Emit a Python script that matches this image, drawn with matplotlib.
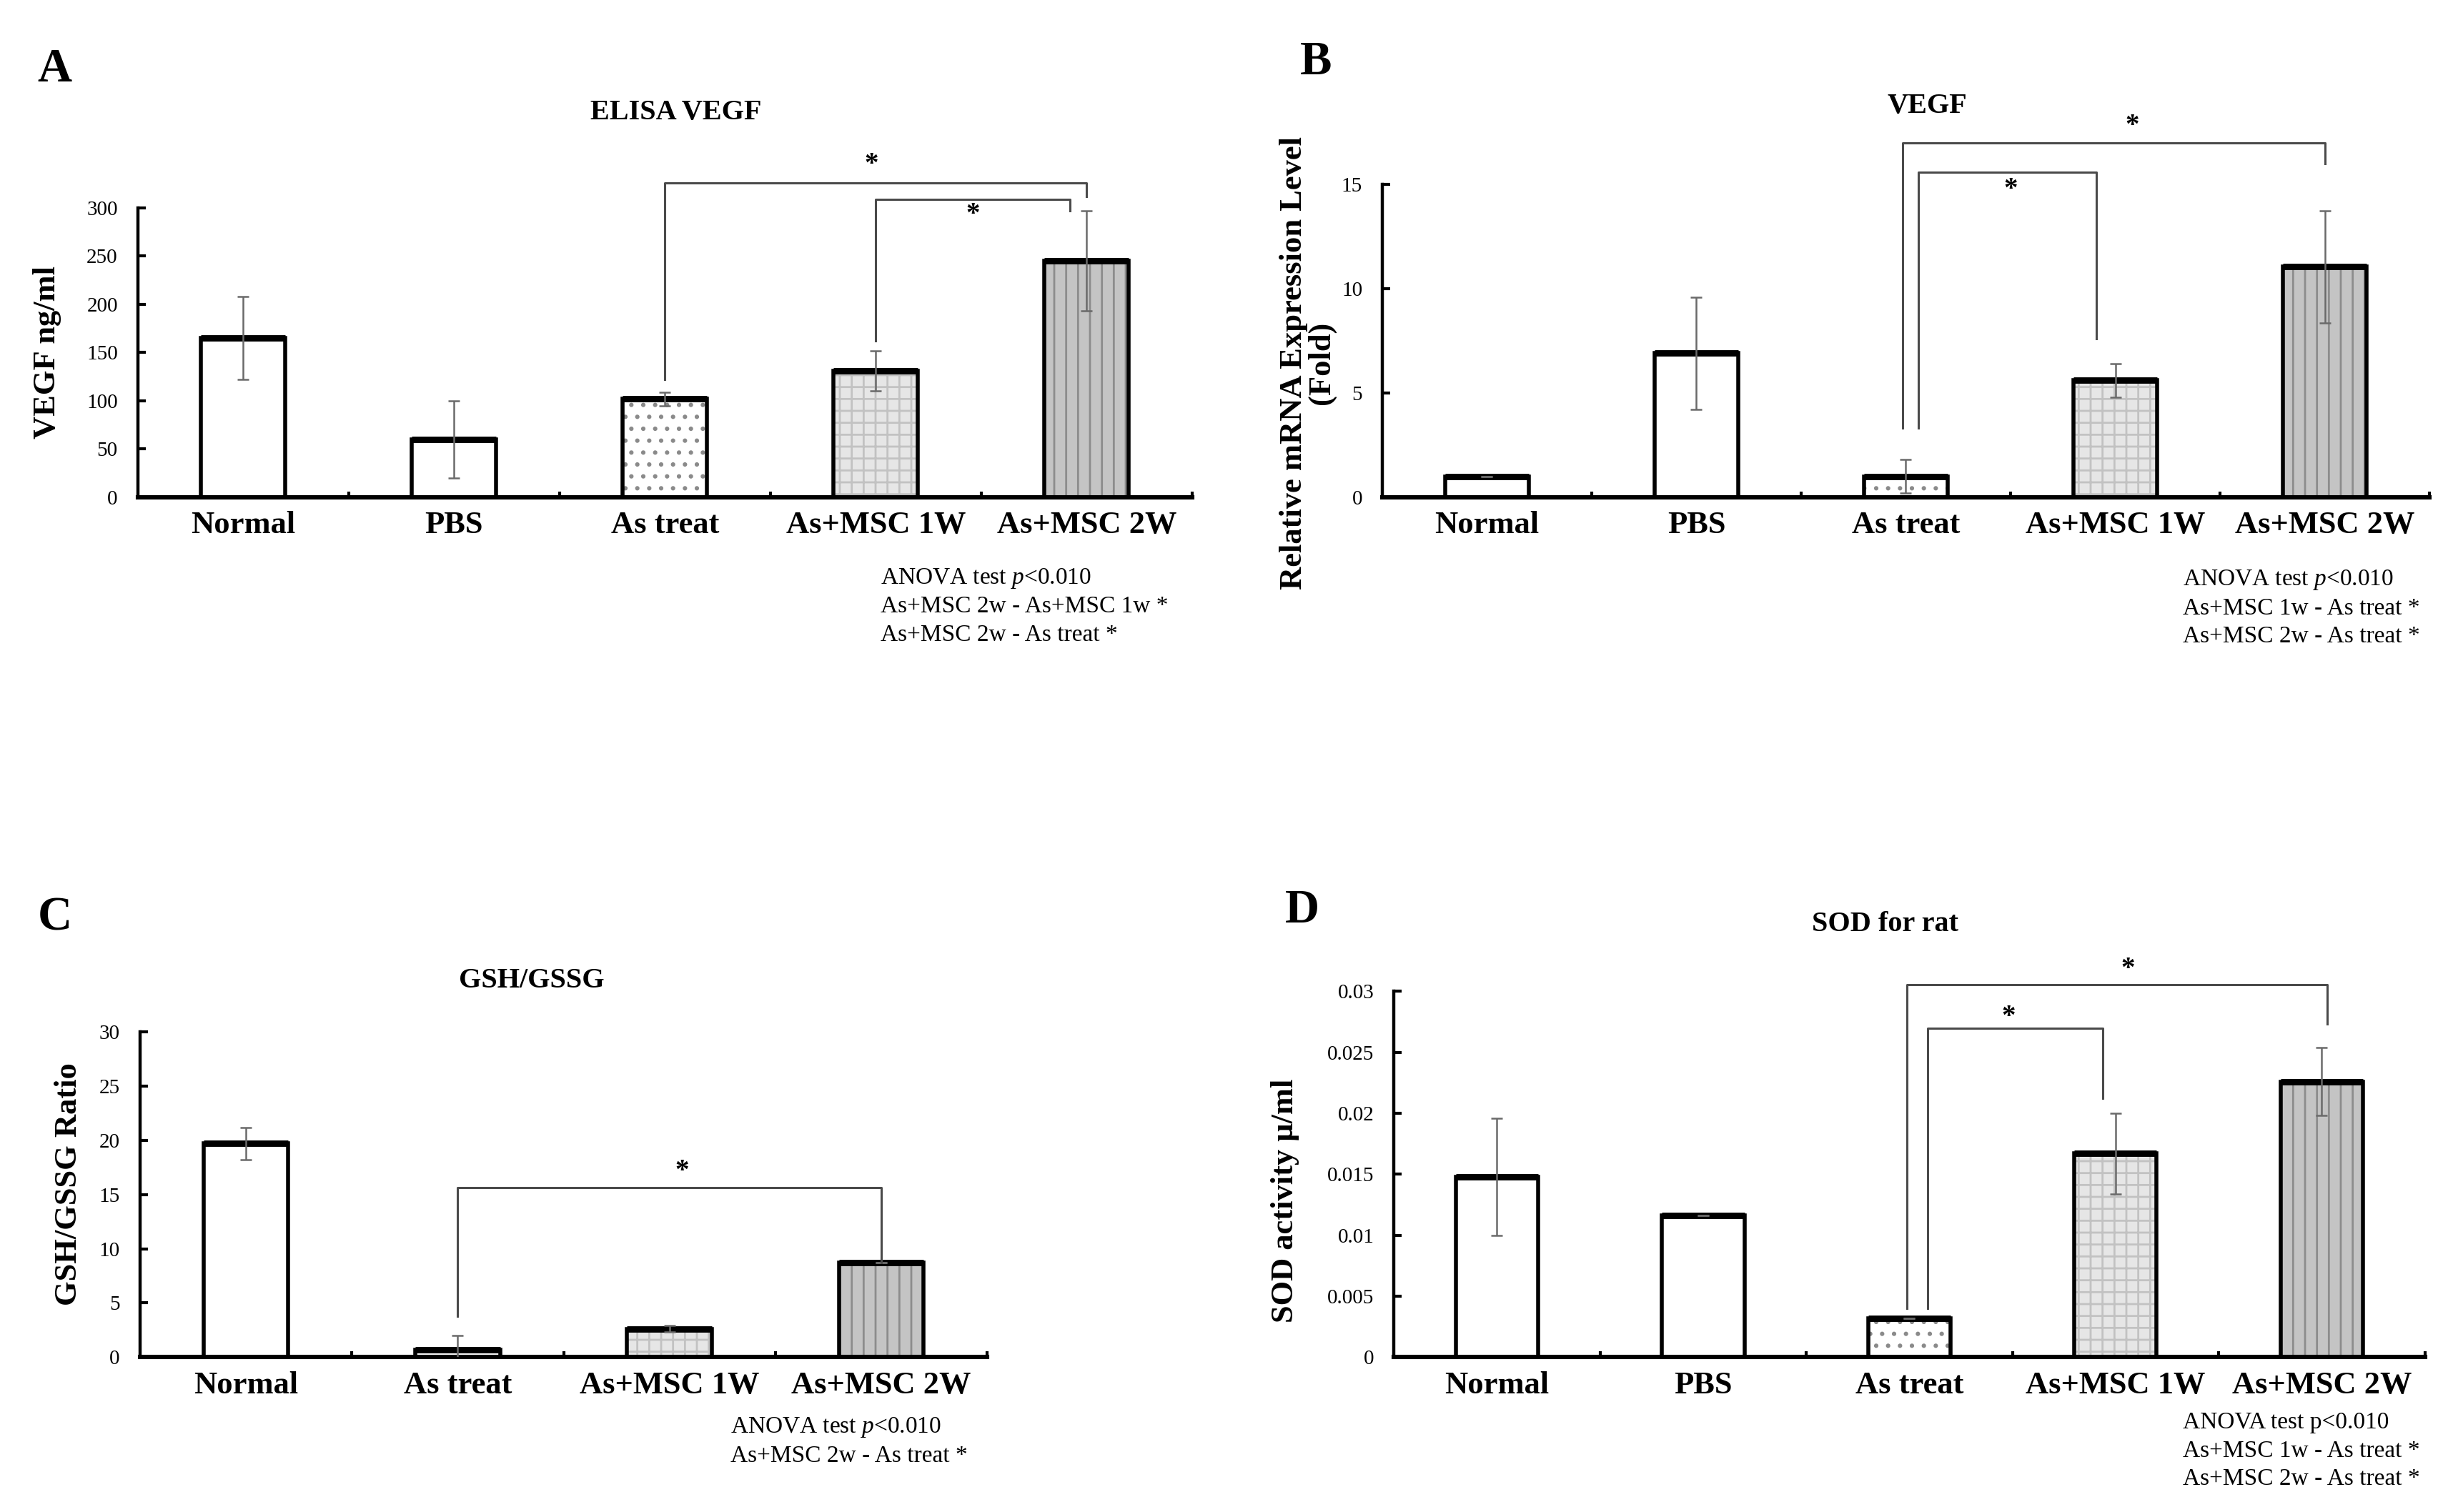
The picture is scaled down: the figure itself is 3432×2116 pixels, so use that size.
import numpy as np
import matplotlib
matplotlib.use("Agg")
import matplotlib.pyplot as plt

plt.rcParams['font.family'] = ['Liberation Serif', 'DejaVu Serif']
plt.rcParams['mathtext.fontset'] = 'custom'
plt.rcParams['mathtext.rm'] = 'Liberation Serif'
plt.rcParams['mathtext.it'] = 'Liberation Serif:italic'
plt.rcParams['hatch.linewidth'] = 1.0

groups5 = ["Normal", "PBS", "As treat", "As+MSC 1W", "As+MSC 2W"]
groups4 = ["Normal", "As treat", "As+MSC 1W", "As+MSC 2W"]

# A: ELISA VEGF (ng/ml)
elisa_mean = [165, 60, 102, 131, 245]
elisa_err = [43, 40, 7, 21, 52]
# B: relative mRNA (fold)
mrna_mean = [1.0, 6.9, 1.0, 5.6, 11.05]
mrna_err = [0, 2.7, 0.8, 0.8, 2.7]
# C: GSH/GSSG ratio
gsh_mean = [19.7, 0.7, 2.6, 8.7]
gsh_err = [1.5, 1.3, 0.3, 0]
# D: SOD activity
sod_mean = [0.0148, 0.0116, 0.0032, 0.0167, 0.0226]
sod_err = [0.0048, 0, 0, 0.0033, 0.0028]

# brackets: (left x, left foot, right x, right foot, top, star x, star y)
brk_a = [(2, 122, 4, 312, 326, 2.98, 345),
         (3, 162, 3.92, 297, 309, 3.46, 293)]
brk_b = [(1.985, 3.3, 4, 16.0, 17.0, 3.08, 17.8),
         (2.06, 3.3, 2.91, 7.6, 15.6, 2.5, 14.75)]
brk_c = [(1, 3.8, 3, 8.7, 15.65, 2.06, 17.1)]
brk_d = [(1.99, 0.004, 4.027, 0.0273, 0.03055, 3.06, 0.0318),
         (2.09, 0.004, 2.94, 0.02125, 0.02695, 2.48, 0.0279)]

styles = {
    "Normal": ("white", None, "white"),
    "PBS": ("white", None, "white"),
    "As treat": ("white", "..", "#8a8a8a"),
    "As+MSC 1W": ("#e6e6e6", "++", "#c2c2c2"),
    "As+MSC 2W": ("#c4c4c4", "||", "#8c8c8c"),
}

fig = plt.figure(figsize=(17.16, 10.58), dpi=200)


def panel(rect, groups, mean, err, ymax, ystep, ticklabels, brackets, title, tpos):
    ax = fig.add_axes(rect)
    x = np.arange(len(groups))
    w = 0.4
    for i, g in enumerate(groups):
        fc, h, hc = styles[g]
        ax.bar(x[i], mean[i], w, color=fc, hatch=h, edgecolor=hc, linewidth=0, zorder=2)
    ax.bar(x, mean, w, fill=False, edgecolor="black", linewidth=2.0, zorder=3)
    ax.hlines(mean, x - w / 2, x + w / 2, color="black", linewidth=3.2, zorder=4)
    ax.errorbar(x, mean, yerr=err, fmt="none", ecolor="#6a6a6a", elinewidth=0.9,
                capsize=3, capthick=0.9, zorder=5)
    for lx, lb, rx, rb, top, sx, sy in brackets:
        ax.plot([lx, lx, rx, rx], [lb, top, top, rb], color="#4a4a4a",
                linewidth=1.1, clip_on=False, zorder=6)
        ax.text(sx, sy, "*", ha="center", va="center", fontsize=14,
                fontweight="bold", clip_on=False)
    ax.set_xlim(-0.5, len(groups) - 0.5)
    ax.set_ylim(0, ymax)
    ax.set_yticks(np.arange(0, ymax + ystep / 2, ystep))
    ax.set_yticklabels(ticklabels, fontsize=10.5)
    ax.set_xticks(x)
    ax.set_xticklabels(groups, fontsize=16, fontweight="bold")
    ax.set_xticks(np.arange(0.5, len(groups), 1), minor=True)
    ax.tick_params(axis="x", which="major", length=0, pad=7)
    ax.tick_params(axis="x", which="minor", length=3, width=1.5, direction="in")
    ax.tick_params(axis="y", length=4, width=1.5, direction="in", pad=10)
    for s in ["top", "right"]:
        ax.spines[s].set_visible(False)
    ax.spines["left"].set_linewidth(1.6)
    ax.spines["bottom"].set_linewidth(2.2)
    fig.text(tpos[0], tpos[1], title, ha="center", va="center", fontsize=14.5,
             fontweight="bold")
    return ax


panel([0.0561, 0.6712, 0.4299, 0.1913], groups5, elisa_mean, elisa_err, 300, 50,
      ["0", "50", "100", "150", "200", "250", "300"], brk_a, "ELISA VEGF", (0.2755, 0.9255))
panel([0.5635, 0.6712, 0.4269, 0.2068], groups5, mrna_mean, mrna_err, 15, 5,
      ["0", "5", "10", "15"], brk_b, "VEGF", (0.7857, 0.9297))
panel([0.0570, 0.1024, 0.3455, 0.2151], groups4, gsh_mean, gsh_err, 30, 5,
      ["0", "5", "10", "15", "20", "25", "30"], brk_c, "GSH/GSSG", (0.2168, 0.3516))
panel([0.5682, 0.1024, 0.4203, 0.2420], groups5, sod_mean, sod_err, 0.03, 0.005,
      ["0", "0.005", "0.01", "0.015", "0.02", "0.025", "0.03"], brk_d, "SOD for rat",
      (0.7685, 0.3888))

# panel letters
for lx, ly, s in [(0.0153, 0.946, "A"), (0.530, 0.951, "B"),
                  (0.0153, 0.385, "C"), (0.524, 0.390, "D")]:
    fig.text(lx, ly, s, fontsize=24, fontweight="bold", ha="left", va="baseline")

# y labels
fig.text(0.0191, 0.767, "VEGF ng/ml", rotation=90, ha="center", va="center",
         fontsize=16, fontweight="bold")
fig.text(0.533, 0.760, "Relative mRNA Expression Level\n(Fold)", rotation=90,
         ha="center", va="center", fontsize=16, fontweight="bold",
         multialignment="center", linespacing=0.95)
fig.text(0.028, 0.217, "GSH/GSSG Ratio", rotation=90, ha="center", va="center",
         fontsize=16, fontweight="bold")
fig.text(0.524, 0.206, "SOD activity \u03bc/ml", rotation=90, ha="center", va="center",
         fontsize=16, fontweight="bold")

# statistics notes
notes = [
    (0.359, 0.6174, ["ANOVA test $p$<0.010", "As+MSC 2w - As+MSC 1w *", "As+MSC 2w - As treat *"]),
    (0.890, 0.6163, ["ANOVA test $p$<0.010", "As+MSC 1w - As treat *", "As+MSC 2w - As treat *"]),
    (0.2978, 0.0558, ["ANOVA test $p$<0.010", "As+MSC 2w - As treat *"]),
    (0.890, 0.0590, ["ANOVA test p<0.010", "As+MSC 1w - As treat *", "As+MSC 2w - As treat *"]),
]
for nx, ny, lines in notes:
    for k, line in enumerate(lines):
        fig.text(nx, ny - k * 0.0186, line, ha="left", va="center", fontsize=12)

plt.savefig("out.png", dpi=200)
